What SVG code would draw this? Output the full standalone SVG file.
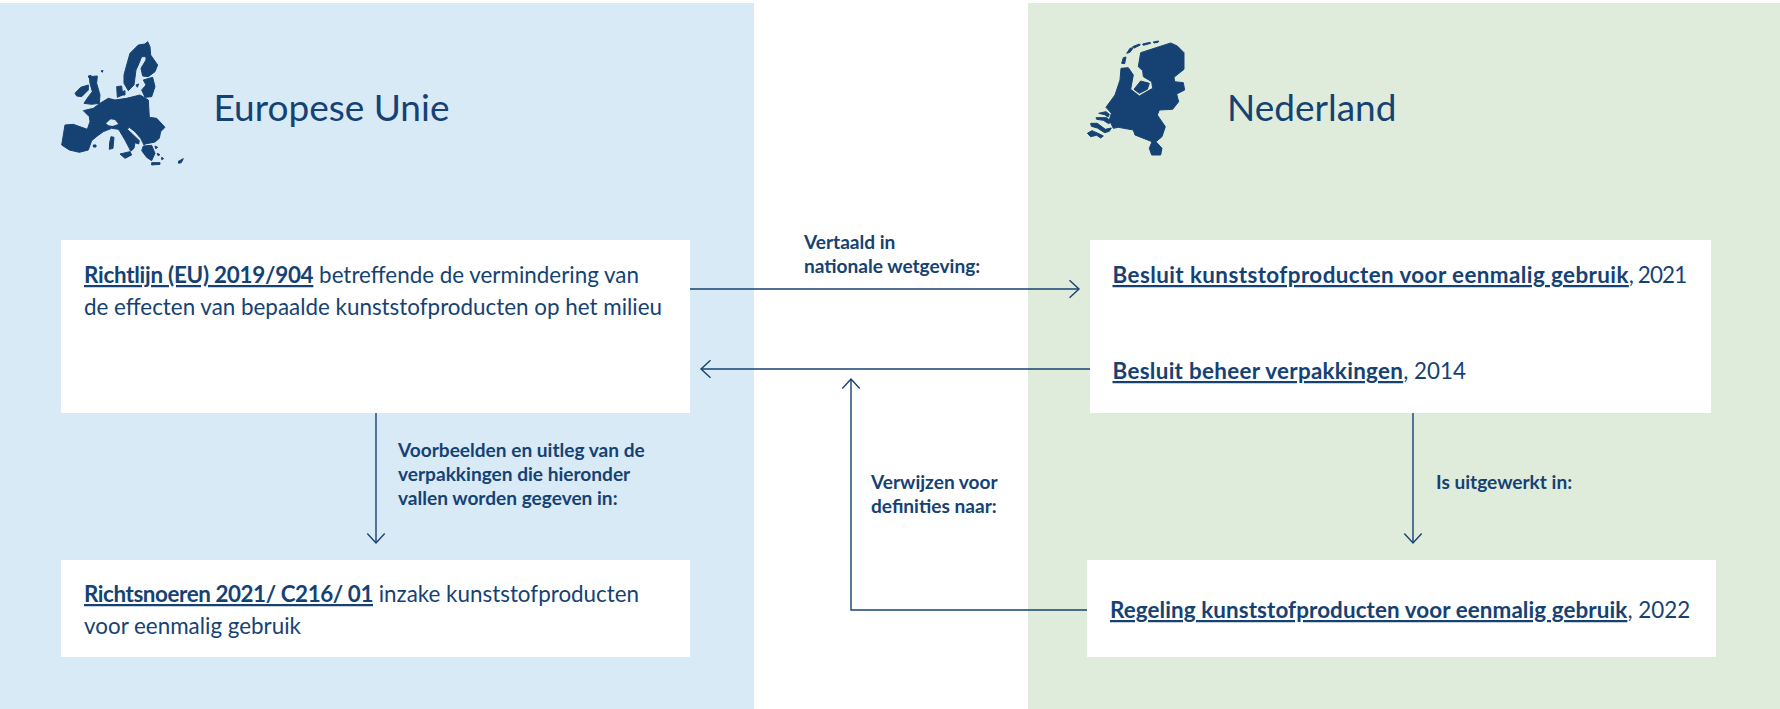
<svg xmlns="http://www.w3.org/2000/svg" width="1780" height="709" viewBox="0 0 1780 709">
<style>
text{font-family:"Lato","Noto Sans",sans-serif;fill:#154273;font-size:22.4px}
.l{font-weight:700;text-decoration:underline}
.s{font-weight:700;font-size:19.1px}
.h{font-size:37px}
.box{fill:#fff}
.c{fill:none;stroke:#154273;stroke-width:1.4}
.m{fill:#154273;stroke:#154273;stroke-width:3;stroke-linejoin:round}
.eu{fill:#d9eaf7}
</style>
<defs><marker id="a" markerUnits="userSpaceOnUse" markerWidth="24" markerHeight="24" refX="15" refY="12" orient="auto"><path d="M5.5 3.3L15 12L5.5 20.7" fill="none" stroke="#154273" stroke-width="1.4"/></marker></defs>
<rect width="1780" height="709" fill="#fff"/>
<rect x="0" y="3" width="754" height="706" fill="#d9eaf7"/>
<rect x="1028" y="3" width="752" height="706" fill="#e0ecdb"/>
<g id="eu-header">
<g transform="translate(40 20) scale(.3333)">
<path class="m" d="M323 65L330 80L332 105L353 135L345 155L325 170L308 168L303 145L318 120L318 110L305 110L295 135L288 150L282 195L265 212L252 190L252 165L260 135L270 100L295 75L315 72Z"/>
<path class="m" d="M310 180L338 172L345 200L335 230L315 232L305 210L318 195Z"/>
<path class="m" d="M148 170L172 168L170 190L180 225L178 250L155 253L132 250L145 230L157 215L150 190Z"/>
<path class="m" d="M105 220L122 202L145 195L145 210L125 230L110 228Z"/>
<path class="m" d="M230 200L245 198L248 225L232 232Z"/>
<path class="m" d="M247 215L255 212L255 225L247 225Z"/>
<path class="m" d="M130 272L160 265L180 250L205 235L225 240L260 235L300 225L325 240L328 292L350 295L375 322L362 335L358 355L345 366L316 372L312 375L302 355L285 335L268 322L262 328L280 345L298 362L296 372L285 368L282 385L272 394L268 385L255 360L240 335L235 328L215 325L190 335L172 348L155 362L145 390L118 397L88 390L65 375L75 315L100 313L125 322L142 328L150 305L148 290Z"/>
<path class="eu" d="M198 310L212 298L225 300L235 312L218 318L205 316Z"/>
<path class="m" d="M310 378L335 376L345 400L335 422L320 412L305 392Z"/>
<path class="m" d="M240 402L270 395L275 405L255 415Z"/>
<path class="m" d="M213 350L222 352L219 385L208 388L209 368Z"/>
<path class="m" d="M145 168l8-2 0 6-6 2zM183 153l6-2-2 6zM160 375l8 0 0 6-8 0zM335 428l25 0 0 5-25 2zM415 424l15-8-6 12-8 2zM345 378l8 4-6 4zM352 400l8 4-6 3zM365 412l6 4-6 3zM288 195l8-3-4 10z"/>
</g>
<text class="h" x="213.5" y="121">Europese Unie</text></g>
<g id="nl-header">
<g transform="translate(1070 20) scale(.3333)"><path class="m" d="M302 69L322 78L342 98L342 148L312 172L314 185L340 188L344 210L320 222L326 245L308 268L268 270L262 285L286 320L276 350L258 365L276 385L272 405L245 405L238 385L246 365L195 345L190 330L145 322L130 325L118 300L124 280L108 262L135 225L150 180L153 145L175 143L190 165L182 208L208 228L248 205L245 185L220 170L218 152L205 140L212 98Z"/><path class="m" d="M192 208L212 183L238 190L232 208L208 220Z"/><path class="m" d="M155 130l5-17 8-2-4 20zM170 100l10-15 10-2-10 14zM188 80l20-8 3 3-18 9zM218 72l22-5 2 3-22 6zM250 66l16-3-2 4-12 2zM86 280l22-5 10 8-4 8-10-7zM78 293l32 0 14 12-8 6-16-10-20-3zM62 310l20 0 24 18 18-4-6 10-14 4-22-14-18-5zM52 340l14-8 18 8 16 8-8 6-12-8-18 4z"/></g>
<text class="h" x="1227" y="121">Nederland</text></g>
<g id="connectors">
<path class="c" marker-end="url(#a)" d="M690 289H1079"/>
<path class="c" marker-end="url(#a)" d="M1090 369H701"/>
<path class="c" marker-end="url(#a)" d="M1087 610H851V379"/>
<path class="c" marker-end="url(#a)" d="M376 412V543"/>
<path class="c" marker-end="url(#a)" d="M1413 412V543"/>
</g>
<g id="eu-directive"><rect class="box" x="61" y="240" width="629" height="173"/>
<text x="84" y="283"><tspan class="l" letter-spacing="-.25">Richtlijn (EU) 2019/904</tspan> betreffende de vermindering van</text>
<text x="84" y="314.5">de effecten van bepaalde kunststofproducten op het milieu</text></g>
<g id="eu-guidance"><rect class="box" x="61" y="560" width="629" height="97"/>
<text x="84" y="602"><tspan class="l" letter-spacing="-.42">Richtsnoeren 2021/ C216/ 01</tspan> inzake kunststofproducten</text>
<text x="84" y="634">voor eenmalig gebruik</text></g>
<g id="nl-decrees"><rect class="box" x="1090" y="240" width="621" height="173"/>
<text x="1112.5" y="283"><tspan class="l" letter-spacing=".42">Besluit kunststofproducten voor eenmalig gebruik</tspan><tspan letter-spacing="-.9">, 2021</tspan></text>
<text x="1112.5" y="379"><tspan class="l" letter-spacing=".31">Besluit beheer verpakkingen</tspan>, 2014</text></g>
<g id="nl-regulation"><rect class="box" x="1087" y="560" width="629" height="97"/>
<text x="1110" y="618"><tspan class="l" letter-spacing=".1">Regeling kunststofproducten voor eenmalig gebruik</tspan>, 2022</text></g>
<g id="labels">
<text class="s" x="804" y="249">Vertaald in</text><text class="s" x="804" y="273">nationale wetgeving:</text>
<text class="s" x="398" y="457">Voorbeelden en uitleg van de</text><text class="s" x="398" y="481">verpakkingen die hieronder</text><text class="s" x="398" y="504.5">vallen worden gegeven in:</text>
<text class="s" x="871" y="489">Verwijzen voor</text><text class="s" x="871" y="513">definities naar:</text>
<text class="s" x="1436" y="489">Is uitgewerkt in:</text>
</g>
</svg>
